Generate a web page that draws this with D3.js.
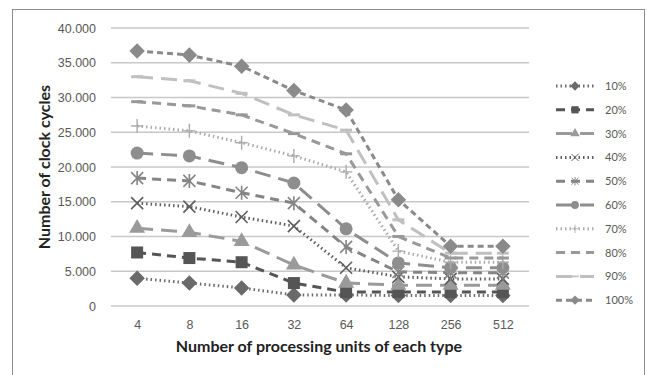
<!DOCTYPE html>
<html>
<head>
<meta charset="utf-8">
<script src="https://cdn.jsdelivr.net/npm/d3@7"></script>
<style>
  body { margin: 0; background: #fff; }
  svg { font-family: Lato, "Open Sans", sans-serif; }
</style>
</head>
<body>
<svg id="chart" width="647" height="375"></svg>
<script>
const categories = ["4", "8", "16", "32", "64", "128", "256", "512"];
const seriesNames = ["10%", "20%", "30%", "40%", "50%", "60%", "70%", "80%", "90%", "100%"];
const yTicks = [0, 5000, 10000, 15000, 20000, 25000, 30000, 35000, 40000];

const s10 = [4000, 3300, 2600, 1600, 1600, 1500, 1500, 1500];
const s20 = [7700, 6900, 6300, 3300, 2000, 2000, 2000, 2000];
const s30 = [11200, 10600, 9300, 5900, 3300, 3000, 3000, 3000];
const s40 = [14800, 14300, 12800, 11500, 5500, 4200, 3900, 3900];
const s50 = [18400, 18000, 16300, 14800, 8500, 4900, 4800, 4800];
const s60 = [22000, 21600, 19900, 17700, 11100, 6200, 5500, 5500];
const s70 = [25900, 25200, 23500, 21600, 19300, 7900, 6300, 6300];
const s80 = [29400, 28800, 27500, 24800, 21900, 10000, 6900, 6900];
const s90 = [33000, 32400, 30600, 27500, 25300, 12400, 7600, 7600];
const s100 = [36700, 36100, 34500, 31000, 28200, 15300, 8600, 8600];

const values = [s10, s20, s30, s40, s50, s60, s70, s80, s90, s100];

// line style per series: colour, dash pattern, marker type
const styles = [
  { color: "#6a6a6a", dash: "1.5,3", marker: "diamond" },
  { color: "#555555", dash: "9,6", marker: "square" },
  { color: "#9a9a9a", dash: "16,8", marker: "triangle" },
  { color: "#5e5e5e", dash: "1.5,3", marker: "x" },
  { color: "#858585", dash: "9,6", marker: "star" },
  { color: "#8e8e8e", dash: "16,8", marker: "circle" },
  { color: "#ababab", dash: "1.5,3", marker: "plus" },
  { color: "#999999", dash: "9,6", marker: "dash" },
  { color: "#c0c0c0", dash: "16,8", marker: "dash" },
  { color: "#8a8a8a", dash: "6,4", marker: "diamond" }
];

const svg = d3.select("#chart");
const margin = { left: 111, right: 118, top: 28, bottom: 69 };
const width = 647 - margin.left - margin.right;
const height = 375 - margin.top - margin.bottom;

// outer chart border
svg.append("rect")
  .attr("x", 12.5).attr("y", 9.5)
  .attr("width", 632).attr("height", 380)
  .attr("fill", "none").attr("stroke", "#8c8c8c").attr("stroke-width", 1);

const g = svg.append("g").attr("transform", `translate(${margin.left},${margin.top})`);

const x = d3.scalePoint().domain(categories).range([0, width]).padding(0.5);
const y = d3.scaleLinear().domain([0, 40000]).range([height, 0]);

// gridlines
g.append("g").selectAll("line").data(yTicks).join("line")
  .attr("x1", 0).attr("x2", width)
  .attr("y1", d => y(d)).attr("y2", d => y(d))
  .attr("stroke", "#c8c8c8").attr("stroke-width", 1.5);

const fmt = d => d === 0 ? "0" : d3.format(",")(d).replace(",", ".");

const yAxis = g.append("g")
  .call(d3.axisLeft(y).tickValues(yTicks).tickFormat(fmt).tickSize(0).tickPadding(15));
yAxis.select(".domain").remove();
yAxis.selectAll("text").attr("font-size", 12.5).attr("fill", "#595959");

const xAxis = g.append("g").attr("transform", `translate(0,${height})`)
  .call(d3.axisBottom(x).tickSize(0).tickPadding(14));
xAxis.select(".domain").remove();
xAxis.selectAll("text").attr("font-size", 12.5).attr("fill", "#595959");

// axis titles
svg.append("text")
  .attr("transform", `translate(50,${margin.top + height / 2}) rotate(-90)`)
  .attr("text-anchor", "middle")
  .attr("font-size", 16).attr("font-weight", "bold").attr("fill", "#222")
  .text("Number of clock cycles");

svg.append("text")
  .attr("x", 319).attr("y", 352)
  .attr("text-anchor", "middle")
  .attr("font-size", 16).attr("font-weight", "bold").attr("fill", "#222")
  .text("Number of processing units of each type");

function drawMarker(sel, type, color) {
  if (type === "diamond") {
    sel.append("rect").attr("x", -5.5).attr("y", -5.5).attr("width", 11).attr("height", 11)
      .attr("transform", "rotate(45)").attr("fill", color);
  } else if (type === "square") {
    sel.append("rect").attr("x", -6).attr("y", -6).attr("width", 12).attr("height", 12).attr("fill", color);
  } else if (type === "triangle") {
    sel.append("path").attr("d", d3.symbol(d3.symbolTriangle, 110)()).attr("fill", color);
  } else if (type === "circle") {
    sel.append("circle").attr("r", 6.5).attr("fill", color);
  } else if (type === "x") {
    sel.append("path").attr("d", "M-6,-6L6,6M-6,6L6,-6").attr("stroke", color).attr("stroke-width", 1.6);
  } else if (type === "star") {
    sel.append("path").attr("d", "M-6,-6L6,6M-6,6L6,-6M0,-7L0,7").attr("stroke", color).attr("stroke-width", 1.6);
  } else if (type === "plus") {
    sel.append("path").attr("d", "M-6,0L6,0M0,-7L0,7").attr("stroke", color).attr("stroke-width", 1.4);
  } else if (type === "dash") {
    sel.append("path").attr("d", "M-6,0L6,0").attr("stroke", color).attr("stroke-width", 3);
  }
}

const line = d3.line().x((d, i) => x(categories[i])).y(d => y(d));

// draw from 10% upwards like the original
values.forEach((vals, si) => {
  const st = styles[si];
  const sg = g.append("g");
  sg.append("path")
    .datum(vals)
    .attr("d", line)
    .attr("fill", "none")
    .attr("stroke", st.color)
    .attr("stroke-width", 3)
    .attr("stroke-dasharray", st.dash);
  vals.forEach((v, i) => {
    const m = sg.append("g").attr("transform", `translate(${x(categories[i])},${y(v)})`);
    drawMarker(m, st.marker, st.color);
  });
});

// legend
const legend = svg.append("g").attr("transform", "translate(556,86)");
seriesNames.forEach((name, si) => {
  const st = styles[si];
  const row = legend.append("g").attr("transform", `translate(0,${si * 23.8})`);
  row.append("line")
    .attr("x1", 0).attr("x2", 38).attr("y1", 0).attr("y2", 0)
    .attr("stroke", st.color).attr("stroke-width", 3)
    .attr("stroke-dasharray", st.dash);
  const m = row.append("g").attr("transform", "translate(19,0) scale(0.6)");
  drawMarker(m, st.marker, st.color);
  row.append("text")
    .attr("x", 49).attr("y", 4)
    .attr("font-size", 11).attr("fill", "#595959")
    .text(name);
});
</script>
</body>
</html>
